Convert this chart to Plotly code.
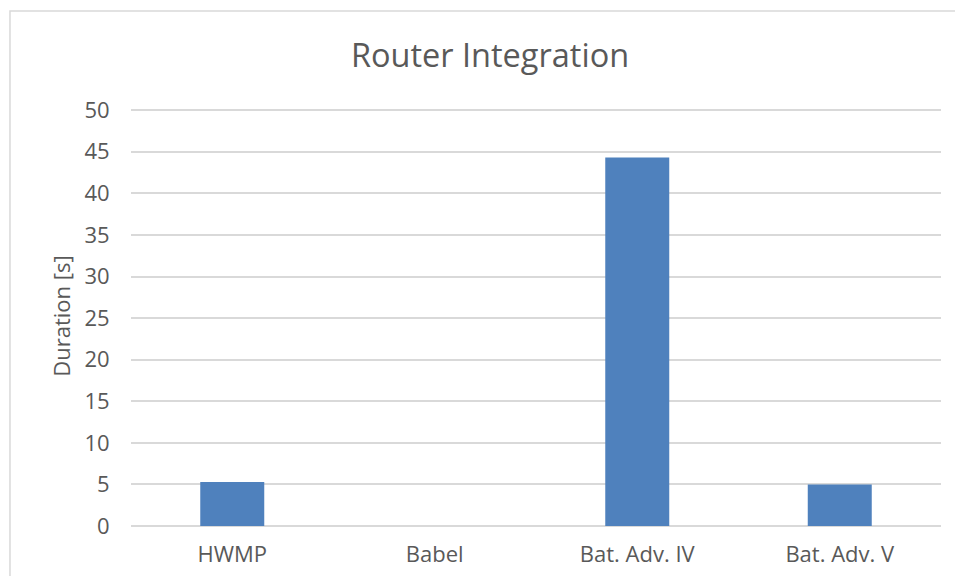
import plotly.graph_objects as go

# DATA
protocols = ['HWMP', 'Babel', 'Bat. Adv. IV', 'Bat. Adv. V']
durations = [5.3, 0, 44.3, 5.0]
y_ticks = [0, 5, 10, 15, 20, 25, 30, 35, 40, 45, 50]

TEXT_COLOR = '#595959'
GRID_COLOR = '#d9d9d9'
BAR_COLOR = '#4f81bd'
FONT = 'Open Sans, Liberation Sans, sans-serif'

fig = go.Figure()
fig.add_trace(go.Bar(x=protocols, y=durations,
                     marker=dict(color=BAR_COLOR, line=dict(width=0)),
                     width=0.316))

# Outer chart border (Excel-style chart area)
fig.add_shape(type='rect', xref='paper', yref='paper',
              x0=-0.1494, x1=1.06, y0=-0.2, y1=1.226,
              line=dict(color=GRID_COLOR, width=1.5), layer='below')

fig.update_layout(
    title=dict(text='Router Integration', x=0.509, xanchor='center',
               y=0.917, yanchor='middle',
               font=dict(size=32.5, color=TEXT_COLOR)),
    font=dict(family=FONT, size=22, color=TEXT_COLOR),
    paper_bgcolor='white', plot_bgcolor='white',
    margin={'l': 123, 'r': 14, 't': 98, 'b': 50, 'pad': 0},
    showlegend=False,
)
fig.update_xaxes(showgrid=False, showline=False, zeroline=False, automargin=False,
                 ticks='outside', ticklen=9, tickcolor='rgba(0,0,0,0)')
fig.update_yaxes(range=[0, 50.5], tickvals=y_ticks, showgrid=True, automargin=False,
                 gridcolor=GRID_COLOR, gridwidth=1.5, zeroline=True,
                 zerolinecolor=GRID_COLOR, zerolinewidth=1.5,
                 ticks='outside', ticklen=16, tickcolor='rgba(0,0,0,0)',
                 title=dict(text='Duration [s]', standoff=7,
                            font=dict(size=22, color=TEXT_COLOR)))

fig.write_html('out.html')
